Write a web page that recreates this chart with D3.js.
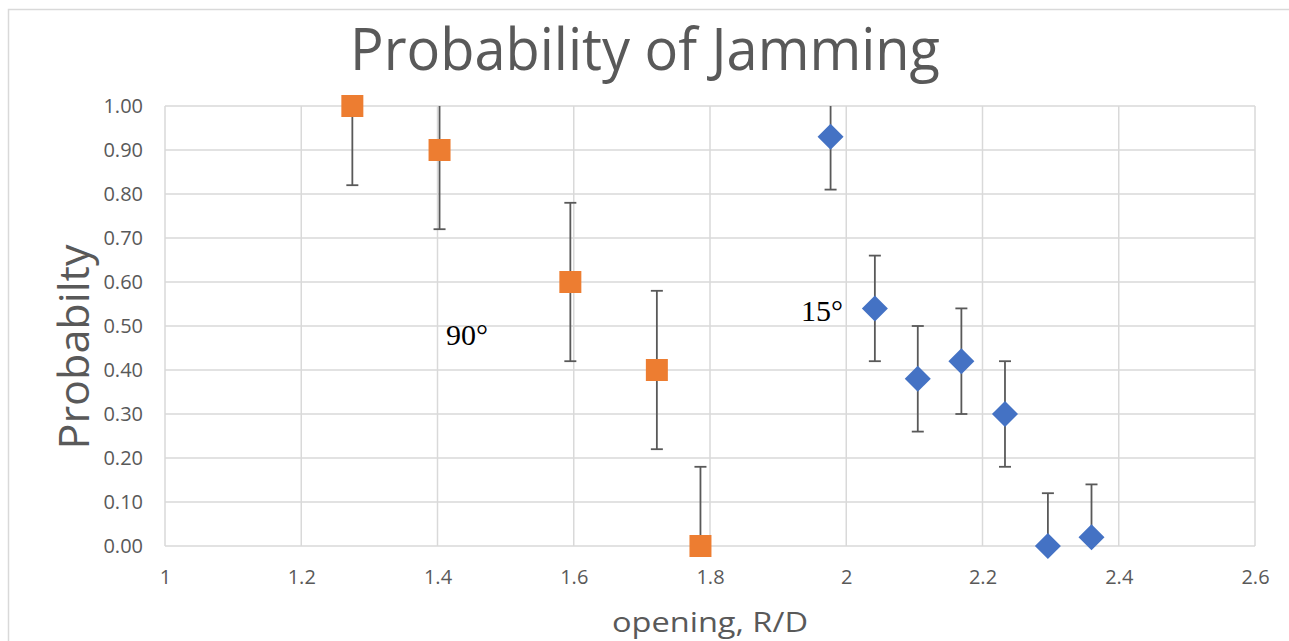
<!DOCTYPE html>
<html>
<head>
<meta charset="utf-8">
<script src="https://cdn.jsdelivr.net/npm/d3@7"></script>
<style>
  html, body { margin: 0; padding: 0; background: #fff; }
  svg { display: block; }
</style>
</head>
<body>
<svg id="chart"></svg>
<script>
// 90 degree series (orange squares)
const x90 = [1.275, 1.403, 1.595, 1.722, 1.786];
const p90 = [1.00, 0.90, 0.60, 0.40, 0.00];
const err90 = 0.18;

// 15 degree series (blue diamonds)
const x15 = [1.977, 2.042, 2.105, 2.169, 2.233, 2.296, 2.360];
const p15 = [0.93, 0.54, 0.38, 0.42, 0.30, 0.00, 0.02];
const err15 = 0.12;

const xTicks = [1, 1.2, 1.4, 1.6, 1.8, 2, 2.2, 2.4, 2.6];
const yTicks = [0, 0.1, 0.2, 0.3, 0.4, 0.5, 0.6, 0.7, 0.8, 0.9, 1.0];

const width = 1289;
const height = 641;
const margin = { top: 106, right: 34, bottom: 95, left: 165 };
const gray = "#595959";
const gridColor = "#d9d9d9";
const font = "'Open Sans', 'Noto Sans', sans-serif";

const svg = d3.select("#chart")
    .attr("width", width)
    .attr("height", height);

// chart area border
svg.append("rect")
    .attr("x", 8.5)
    .attr("y", 9.5)
    .attr("width", width + 20)
    .attr("height", height + 20)
    .attr("fill", "none")
    .attr("stroke", gridColor)
    .attr("stroke-width", 1.5);

const x = d3.scaleLinear()
    .domain([1, 2.6])
    .range([margin.left, width - margin.right]);

const y = d3.scaleLinear()
    .domain([0, 1])
    .range([height - margin.bottom, margin.top]);

// grid
svg.append("g")
    .selectAll("line")
    .data(yTicks)
    .join("line")
    .attr("x1", x(1))
    .attr("x2", x(2.6))
    .attr("y1", d => y(d))
    .attr("y2", d => y(d))
    .attr("stroke", gridColor)
    .attr("stroke-width", 1.5);

svg.append("g")
    .selectAll("line")
    .data(xTicks)
    .join("line")
    .attr("x1", d => x(d))
    .attr("x2", d => x(d))
    .attr("y1", y(0))
    .attr("y2", y(1))
    .attr("stroke", gridColor)
    .attr("stroke-width", 1.5);

// axes: labels only, no domain / tick marks
const yAxis = svg.append("g")
    .attr("transform", `translate(${margin.left - 22},0)`)
    .call(d3.axisLeft(y).tickValues(yTicks).tickFormat(d3.format(".2f")).tickSize(0).tickPadding(0));
yAxis.select(".domain").remove();
yAxis.selectAll("text")
    .attr("fill", gray)
    .style("font-family", font)
    .style("font-size", "20px");

const xAxis = svg.append("g")
    .attr("transform", `translate(0,${y(0) + 24})`)
    .call(d3.axisBottom(x).tickValues(xTicks).tickFormat(d => d3.format("")(d)).tickSize(0).tickPadding(0));
xAxis.select(".domain").remove();
xAxis.selectAll("text")
    .attr("fill", gray)
    .style("font-family", font)
    .style("font-size", "20px");

// titles
svg.append("text")
    .attr("x", 645)
    .attr("y", 70)
    .attr("text-anchor", "middle")
    .attr("fill", gray)
    .attr("textLength", 590)
    .attr("lengthAdjust", "spacingAndGlyphs")
    .style("font-family", font)
    .style("font-size", "58px")
    .text("Probability of Jamming");

svg.append("text")
    .attr("transform", "translate(89,347) rotate(-90)")
    .attr("text-anchor", "middle")
    .attr("fill", gray)
    .attr("textLength", 205)
    .attr("lengthAdjust", "spacingAndGlyphs")
    .style("font-family", font)
    .style("font-size", "42px")
    .text("Probabilty");

svg.append("text")
    .attr("x", 710)
    .attr("y", 632)
    .attr("text-anchor", "middle")
    .attr("fill", gray)
    .attr("textLength", 196)
    .attr("lengthAdjust", "spacingAndGlyphs")
    .style("font-family", font)
    .style("font-size", "27px")
    .text("opening, R/D");

// error bars clipped to plot area
svg.append("defs").append("clipPath")
    .attr("id", "plot-clip")
    .append("rect")
    .attr("x", x(1))
    .attr("y", y(1))
    .attr("width", x(2.6) - x(1))
    .attr("height", y(0) - y(1) + 1);

const series = [
    { xs: x90, ps: p90, err: err90, color: "#ed7d31", shape: "square" },
    { xs: x15, ps: p15, err: err15, color: "#4472c4", shape: "diamond" }
];

const errG = svg.append("g").attr("clip-path", "url(#plot-clip)");
const markG = svg.append("g");

series.forEach(s => {
    const pts = s.xs.map((v, i) => ({ x: v, p: s.ps[i] }));
    const bars = errG.selectAll(null)
        .data(pts)
        .join("g")
        .attr("stroke", gray)
        .attr("stroke-width", 1.8);
    bars.append("line")
        .attr("x1", d => x(d.x))
        .attr("x2", d => x(d.x))
        .attr("y1", d => y(d.p - s.err))
        .attr("y2", d => y(d.p + s.err));
    [-1, 1].forEach(sign => {
        bars.append("line")
            .attr("x1", d => x(d.x) - 6)
            .attr("x2", d => x(d.x) + 6)
            .attr("y1", d => y(d.p + sign * s.err))
            .attr("y2", d => y(d.p + sign * s.err));
    });

    const sym = s.shape === "square"
        ? d3.symbol().type(d3.symbolSquare).size(22 * 22)
        : d3.symbol().type(d3.symbolSquare).size(18.4 * 18.4);
    markG.selectAll(null)
        .data(pts)
        .join("path")
        .attr("d", sym)
        .attr("transform", d => `translate(${x(d.x)},${y(d.p)})` + (s.shape === "diamond" ? " rotate(45)" : ""))
        .attr("fill", s.color);
});

// series annotations
svg.append("text")
    .attr("x", 446)
    .attr("y", 345)
    .style("font-family", "'Liberation Serif', 'DejaVu Serif', serif")
    .style("font-size", "30px")
    .attr("fill", "#000")
    .text("90°");

svg.append("text")
    .attr("x", 801)
    .attr("y", 321)
    .style("font-family", "'Liberation Serif', 'DejaVu Serif', serif")
    .style("font-size", "30px")
    .attr("fill", "#000")
    .text("15°");
</script>
</body>
</html>
